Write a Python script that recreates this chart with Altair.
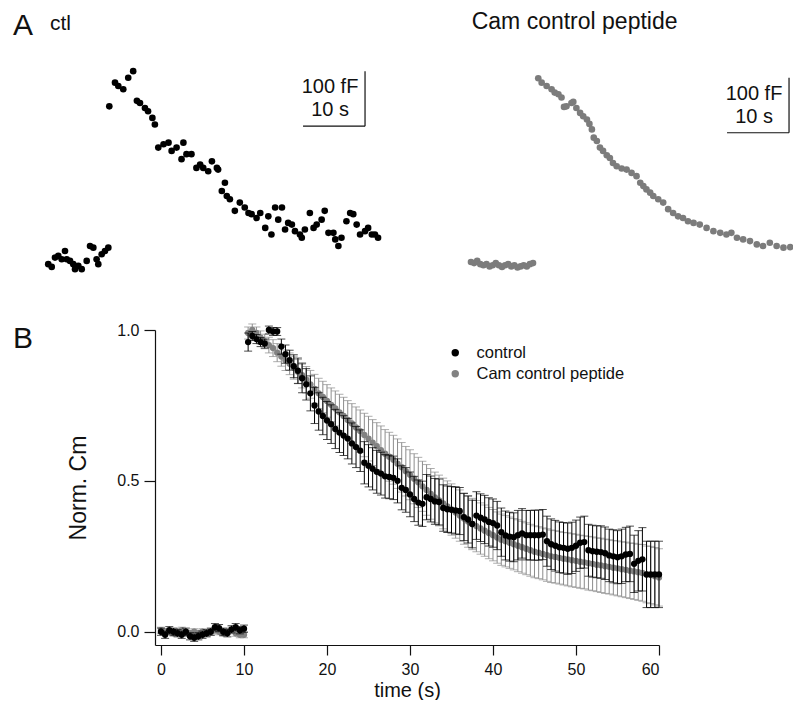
import altair as alt
import pandas as pd
import numpy as np

FONT = "Liberation Sans"

# ---------------- Panel A, left trace (ctl): time (s), capacitance (fF) ----------------
ctl_t = [0.2, 0.76, 1.29, 1.82, 2.37, 2.9, 3.18, 3.71, 4.24, 4.52, 5.05, 5.6, 6.4, 6.94, 7.47, 8.0, 8.27, 8.82, 9.35, 9.89,
         10.05, 10.97, 11.5, 12.3, 13.1, 13.9, 14.5, 15.0, 15.8, 16.3, 17.0, 17.4, 17.95, 18.8, 19.6, 20.1, 20.9, 21.7, 22.0, 22.5,
         23.3, 24.1, 24.7, 25.2, 26.0, 26.6, 27.4, 27.6, 28.2, 28.7, 29.0, 29.5, 30.3, 31.1, 31.9, 32.5, 33.0, 33.8, 34.4, 35.2,
         35.7, 36.2, 36.8, 37.3, 37.9, 38.4, 38.9, 39.5, 40.0, 40.8, 41.1, 41.6, 42.4, 43.0, 43.5, 44.3, 44.8, 45.4, 46.2, 46.5,
         47.0, 47.5, 48.3, 48.9, 49.4, 49.95, 50.5, 51.3, 51.8, 52.4, 52.9, 53.4]
ctl_cm = [-2, -7, 10, 13, 7, 22, 7, 4, -2, -11, -5, -11, 4, 31, 28, 7, -2, 16, 22, 28,
          285, 328, 322, 316, 337, 349, 295, 291, 282, 276, 264, 252, 210, 216, 219, 204, 210, 189, 219, 198,
          198, 173, 179, 173, 167, 185, 173, 170, 131, 146, 122, 116, 95, 110, 101, 91, 89, 82, 91, 64,
          85, 52, 101, 79, 101, 61, 73, 70, 58, 52, 46, 61, 91, 64, 70, 79, 95, 55, 55, 43,
          31, 46, 76, 91, 89, 70, 52, 58, 64, 52, 52, 46]

# ---------------- Panel A, right trace (Cam control peptide) ----------------
cam_t = [0.0, 0.5, 1.0, 1.5, 2.0, 2.5, 3.0, 3.5, 4.0, 4.5, 5.0, 5.5, 6.0, 6.5, 7.0, 7.5, 8.0, 8.5, 9.0, 9.5, 10.0,
         10.85, 11.4, 12.2, 13.0, 13.5, 14.1, 14.6, 15.0, 15.4, 16.2, 16.5, 17.0, 17.6, 18.1, 18.7, 19.1, 19.5, 19.8, 20.3,
         20.8, 21.3, 21.9, 22.4, 22.9, 23.5, 24.3, 25.1, 25.9, 26.7, 27.3, 27.8, 28.3, 28.9, 29.4, 30.2, 31.0, 31.8, 32.6,
         33.4, 34.2, 35.0, 35.9, 36.9, 38.0, 39.1, 40.2, 41.2, 42.0, 42.9, 43.9, 45.0, 46.1, 47.1, 48.2, 49.3, 50.4, 51.5,
         52.5, 53.2]
cam_cm = [2, 0, 4, -2, -4, -2, -6, -4, 0, -4, -7, -4, -2, -6, -4, -8, -6, -4, -6, -2, 0,
          336, 328, 322, 316, 310, 307, 301, 284, 285, 291, 293, 282, 273, 267, 261, 253, 243, 228, 222,
          210, 204, 196, 191, 182, 176, 172, 170, 164, 158, 146, 140, 134, 128, 122, 116, 110, 98, 91,
          85, 82, 76, 73, 70, 64, 58, 55, 52, 55, 46, 43, 40, 34, 31, 37, 31, 28, 29,
          28, 28]

# scale bars: 10 s, 100 fF (corner in data units)
SB_T, SB_F = 10, 100
ctl_bar_corner = (51.3, 249)
cam_bar_corner = (51.3, 237)

# ---------------- Panel B: normalised Cm, mean +/- SEM ----------------
base_t = np.arange(0, 10.01, 0.5)      # sampling clock, baseline
post_t = np.arange(10.5, 60.01, 0.5)   # sampling clock, after stimulus

ctl_base = [0.0, -0.01, 0.005, 0.0, -0.005, -0.01, 0.0, -0.015, -0.02, -0.015, -0.01, -0.005, 0.0, 0.015, 0.012,
            0.0, -0.005, 0.008, 0.015, 0.005, 0.01]
cam_base = [0.005, 0.0, 0.0, -0.005, 0.0, 0.005, -0.005, -0.005, 0.0, -0.005, 0.0, -0.005, 0.0, 0.005, 0.0,
            -0.005, 0.0, 0.005, -0.005, -0.01, -0.01]
ctl_base_sem = [0.012] * 21
cam_base_sem = [0.01] * 21

ctl_post = [0.96, 0.98, 0.97, 0.96, 0.955, 1.0, 0.995, 0.995, 0.945, 0.92,
            0.90, 0.88, 0.865, 0.84, 0.82, 0.79, 0.75, 0.73, 0.715, 0.70,
            0.688, 0.672, 0.66, 0.65, 0.64, 0.624, 0.612, 0.60, 0.56, 0.55,
            0.54, 0.53, 0.524, 0.515, 0.513, 0.51, 0.50, 0.477, 0.47, 0.455,
            0.44, 0.428, 0.424, 0.446, 0.44, 0.432, 0.43, 0.41, 0.406, 0.404,
            0.402, 0.40, 0.38, 0.372, 0.357, 0.385, 0.378, 0.372, 0.364, 0.36,
            0.352, 0.33, 0.319, 0.315, 0.313, 0.32, 0.326, 0.32, 0.32, 0.32,
            0.32, 0.322, 0.30, 0.29, 0.285, 0.28, 0.278, 0.275, 0.278, 0.285,
            0.295, 0.297, 0.27, 0.267, 0.265, 0.264, 0.26, 0.253, 0.25, 0.247,
            0.25, 0.256, 0.258, 0.225, 0.235, 0.24, 0.19, 0.19, 0.19, 0.19]
cam_post = [0.99, 1.0, 0.99, 0.975, 0.962, 0.95, 0.94, 0.925, 0.912, 0.90,
            0.888, 0.875, 0.862, 0.85, 0.835, 0.82, 0.805, 0.79, 0.778, 0.765,
            0.752, 0.74, 0.727, 0.715, 0.702, 0.69, 0.677, 0.665, 0.652, 0.64,
            0.627, 0.615, 0.602, 0.59, 0.58, 0.57, 0.557, 0.545, 0.532, 0.52,
            0.507, 0.495, 0.482, 0.47, 0.457, 0.445, 0.435, 0.425, 0.415, 0.405,
            0.395, 0.385, 0.375, 0.365, 0.357, 0.35, 0.342, 0.335, 0.327, 0.32,
            0.312, 0.305, 0.30, 0.295, 0.29, 0.285, 0.28, 0.275, 0.27, 0.265,
            0.262, 0.258, 0.254, 0.25, 0.248, 0.245, 0.242, 0.24, 0.237, 0.235,
            0.232, 0.23, 0.227, 0.225, 0.222, 0.22, 0.217, 0.215, 0.212, 0.21,
            0.207, 0.205, 0.202, 0.20, 0.197, 0.195, 0.19, 0.188, 0.184, 0.18]
ctl_post_sem = [0.03, 0.015, 0.015, 0.015, 0.015, 0.013, 0.013, 0.013, 0.025, 0.03,
                0.033, 0.038, 0.042, 0.048, 0.052, 0.058, 0.06, 0.062, 0.062, 0.063,
                0.064, 0.065, 0.066, 0.066, 0.067, 0.068, 0.068, 0.069, 0.07, 0.07,
                0.07, 0.071, 0.071, 0.072, 0.072, 0.072, 0.073, 0.073, 0.074, 0.074,
                0.075, 0.075, 0.075, 0.075, 0.076, 0.076, 0.076, 0.077, 0.077, 0.077,
                0.078, 0.078, 0.078, 0.078, 0.079, 0.079, 0.079, 0.08, 0.08, 0.08,
                0.08, 0.08, 0.081, 0.081, 0.081, 0.082, 0.082, 0.082, 0.082, 0.083,
                0.083, 0.083, 0.083, 0.084, 0.084, 0.084, 0.084, 0.085, 0.085, 0.085,
                0.085, 0.086, 0.086, 0.086, 0.086, 0.087, 0.087, 0.087, 0.088, 0.088,
                0.09, 0.09, 0.092, 0.095, 0.1, 0.105, 0.11, 0.11, 0.11, 0.11]
cam_post_sem = [0.02, 0.02, 0.02, 0.022, 0.024, 0.026, 0.028, 0.03, 0.032, 0.034,
                0.036, 0.038, 0.04, 0.042, 0.044, 0.046, 0.048, 0.05, 0.052, 0.054,
                0.056, 0.058, 0.06, 0.062, 0.064, 0.066, 0.068, 0.07, 0.072, 0.074,
                0.076, 0.078, 0.08, 0.08, 0.081, 0.081, 0.082, 0.082, 0.082, 0.083,
                0.083, 0.083, 0.083, 0.084, 0.084, 0.084, 0.084, 0.084, 0.085, 0.085,
                0.085, 0.085, 0.085, 0.085, 0.085, 0.085, 0.085, 0.085, 0.085, 0.085,
                0.085, 0.085, 0.085, 0.085, 0.085, 0.086, 0.086, 0.086, 0.086, 0.086,
                0.086, 0.086, 0.087, 0.087, 0.087, 0.087, 0.087, 0.088, 0.088, 0.088,
                0.088, 0.088, 0.089, 0.089, 0.089, 0.09, 0.09, 0.09, 0.09, 0.091,
                0.091, 0.092, 0.092, 0.093, 0.093, 0.094, 0.094, 0.095, 0.095, 0.095]

groups = ["control", "Cam control peptide"]
BLACK, GRAY = "#000000", "#828282"


# ================= Panel A =================
def label(text, x, y, size, align="left"):
    return alt.Chart(pd.DataFrame({"s": [text]})).mark_text(
        align=align, baseline="alphabetic", fontSize=size, color="#111111", font=FONT
    ).encode(x=alt.value(x), y=alt.value(y), text="s:N")


def trace_panel(t, cm, color, size, xdom, ydom, w, h, corner, texts, clip):
    xs = alt.Scale(domain=xdom, nice=False, zero=False)
    ys = alt.Scale(domain=ydom, nice=False, zero=False)
    df = pd.DataFrame({"t": t, "cm": cm})
    pts = alt.Chart(df).mark_circle(size=size, color=color, opacity=1, clip=clip).encode(
        x=alt.X("t:Q", scale=xs, axis=None), y=alt.Y("cm:Q", scale=ys, axis=None))
    ct, cf = corner
    bars = pd.DataFrame({"x": [ct, ct - SB_T], "x2": [ct, ct], "y": [cf, cf], "y2": [cf + SB_F, cf]})
    bar = alt.Chart(bars).mark_rule(color="#111111", strokeWidth=1.2).encode(
        x=alt.X("x:Q", scale=xs, axis=None), x2="x2:Q",
        y=alt.Y("y:Q", scale=ys, axis=None), y2="y2:Q")
    sb1 = pd.DataFrame({"t": [ct], "f": [cf], "s": [f"{SB_F} fF"]})
    sb2 = pd.DataFrame({"t": [ct], "f": [cf], "s": [f"{SB_T} s"]})
    txt1 = alt.Chart(sb1).mark_text(
        align="center", baseline="alphabetic", fontSize=20, dx=-35, dy=-33, font=FONT, color="#111111"
    ).encode(x=alt.X("t:Q", scale=xs, axis=None), y=alt.Y("f:Q", scale=ys, axis=None), text="s:N")
    txt2 = alt.Chart(sb2).mark_text(
        align="center", baseline="alphabetic", fontSize=20, dx=-35, dy=-10, font=FONT, color="#111111"
    ).encode(x=alt.X("t:Q", scale=xs, axis=None), y=alt.Y("f:Q", scale=ys, axis=None), text="s:N")
    return alt.layer(pts, bar, txt1, txt2, *texts).properties(width=w, height=h)


YDOM_A = [-43.5, 383.8]
# left panel's plot frame shares its left edge with panel B's plot frame; earlier samples spill left
A_left = trace_panel(
    ctl_t, ctl_cm, BLACK, 44, [17.42, 55.65], YDOM_A, 237, 235, ctl_bar_corner,
    [label("A", -142, -17, 30), label("ctl", -105, -22, 21)], False)
A_right = trace_panel(
    cam_t, cam_cm, "#7c7c7c", 44, [-5.0, 51.94], YDOM_A, 353, 235, cam_bar_corner,
    [label("Cam control peptide", 31.7, -23.3, 23)], True)

top = alt.hconcat(A_left, A_right, spacing=48)

# ================= Panel B =================
def series_df(name, mb, sb, mp, sp):
    t = list(base_t) + list(post_t)
    m = list(mb) + list(mp)
    s = list(sb) + list(sp)
    df = pd.DataFrame({"t": t, "m": m, "err": s})
    df["lo"] = df["m"] - df["err"]
    df["hi"] = df["m"] + df["err"]
    df["group"] = name
    return df


ctl_df = series_df("control", ctl_base, ctl_base_sem, ctl_post, ctl_post_sem)
cam_df = series_df("Cam control peptide", cam_base, cam_base_sem, cam_post, cam_post_sem)

xB = alt.Scale(domain=[-0.72, 60], nice=False, zero=False)
yB = alt.Scale(domain=[-0.044, 1.0], nice=False, zero=False)
xaxis = alt.Axis(values=[0, 10, 20, 30, 40, 50, 60], format="d", tickSize=10, labelPadding=6,
                 labelFontSize=16, titleFontSize=20, titlePadding=3, grid=False, title="time (s)")
yaxis = alt.Axis(values=[0, 0.5, 1.0], format=".1f", tickSize=11, labelPadding=5,
                 labelFontSize=16, titleFontSize=23, titlePadding=26, grid=False, title="Norm. Cm")
cscale = alt.Scale(domain=groups, range=[BLACK, GRAY])
legend = alt.Legend(orient="none", legendX=292, legendY=292.5, title=None, labelFontSize=16.5,
                    symbolSize=55, symbolType="circle", labelOffset=13, rowPadding=4, padding=0,
                    symbolStrokeWidth=0, labelFont=FONT, labelColor="#111111")


def series_layers(df, color, bar_color):
    base = alt.Chart(df).encode(x=alt.X("t:Q", scale=xB, axis=xaxis, title="time (s)"))
    bars = base.mark_rule(color=bar_color, strokeWidth=1).encode(
        y=alt.Y("lo:Q", scale=yB, axis=yaxis, title="Norm. Cm"), y2="hi:Q")
    cap_lo = base.mark_tick(color=bar_color, orient="horizontal", size=8, thickness=1).encode(
        y=alt.Y("lo:Q", scale=yB, axis=yaxis, title="Norm. Cm"))
    cap_hi = base.mark_tick(color=bar_color, orient="horizontal", size=8, thickness=1).encode(
        y=alt.Y("hi:Q", scale=yB, axis=yaxis, title="Norm. Cm"))
    pts = base.mark_circle(size=40, opacity=1).encode(
        y=alt.Y("m:Q", scale=yB, axis=yaxis, title="Norm. Cm"),
        color=alt.Color("group:N", scale=cscale, legend=legend))
    return [bars, cap_lo, cap_hi, pts]


B_label = label("B", -142, 18, 30)
panel_B = alt.layer(
    *series_layers(cam_df, GRAY, "#8c8c8c"),
    *series_layers(ctl_df, BLACK, BLACK),
    B_label,
).properties(width=504, height=315)

chart = alt.vconcat(top, panel_B, spacing=35).properties(
    padding={"left": 5, "top": 2, "right": 0, "bottom": 0}
).configure_view(stroke=None).configure_axis(
    labelFont=FONT, titleFont=FONT, domainColor="#111111", tickColor="#111111",
    labelColor="#111111", titleColor="#111111", titleFontWeight="normal", domainWidth=1.2, tickWidth=1.2
).configure_text(font=FONT)

chart.save("out.html", embed_options={"renderer": "svg", "actions": False})
